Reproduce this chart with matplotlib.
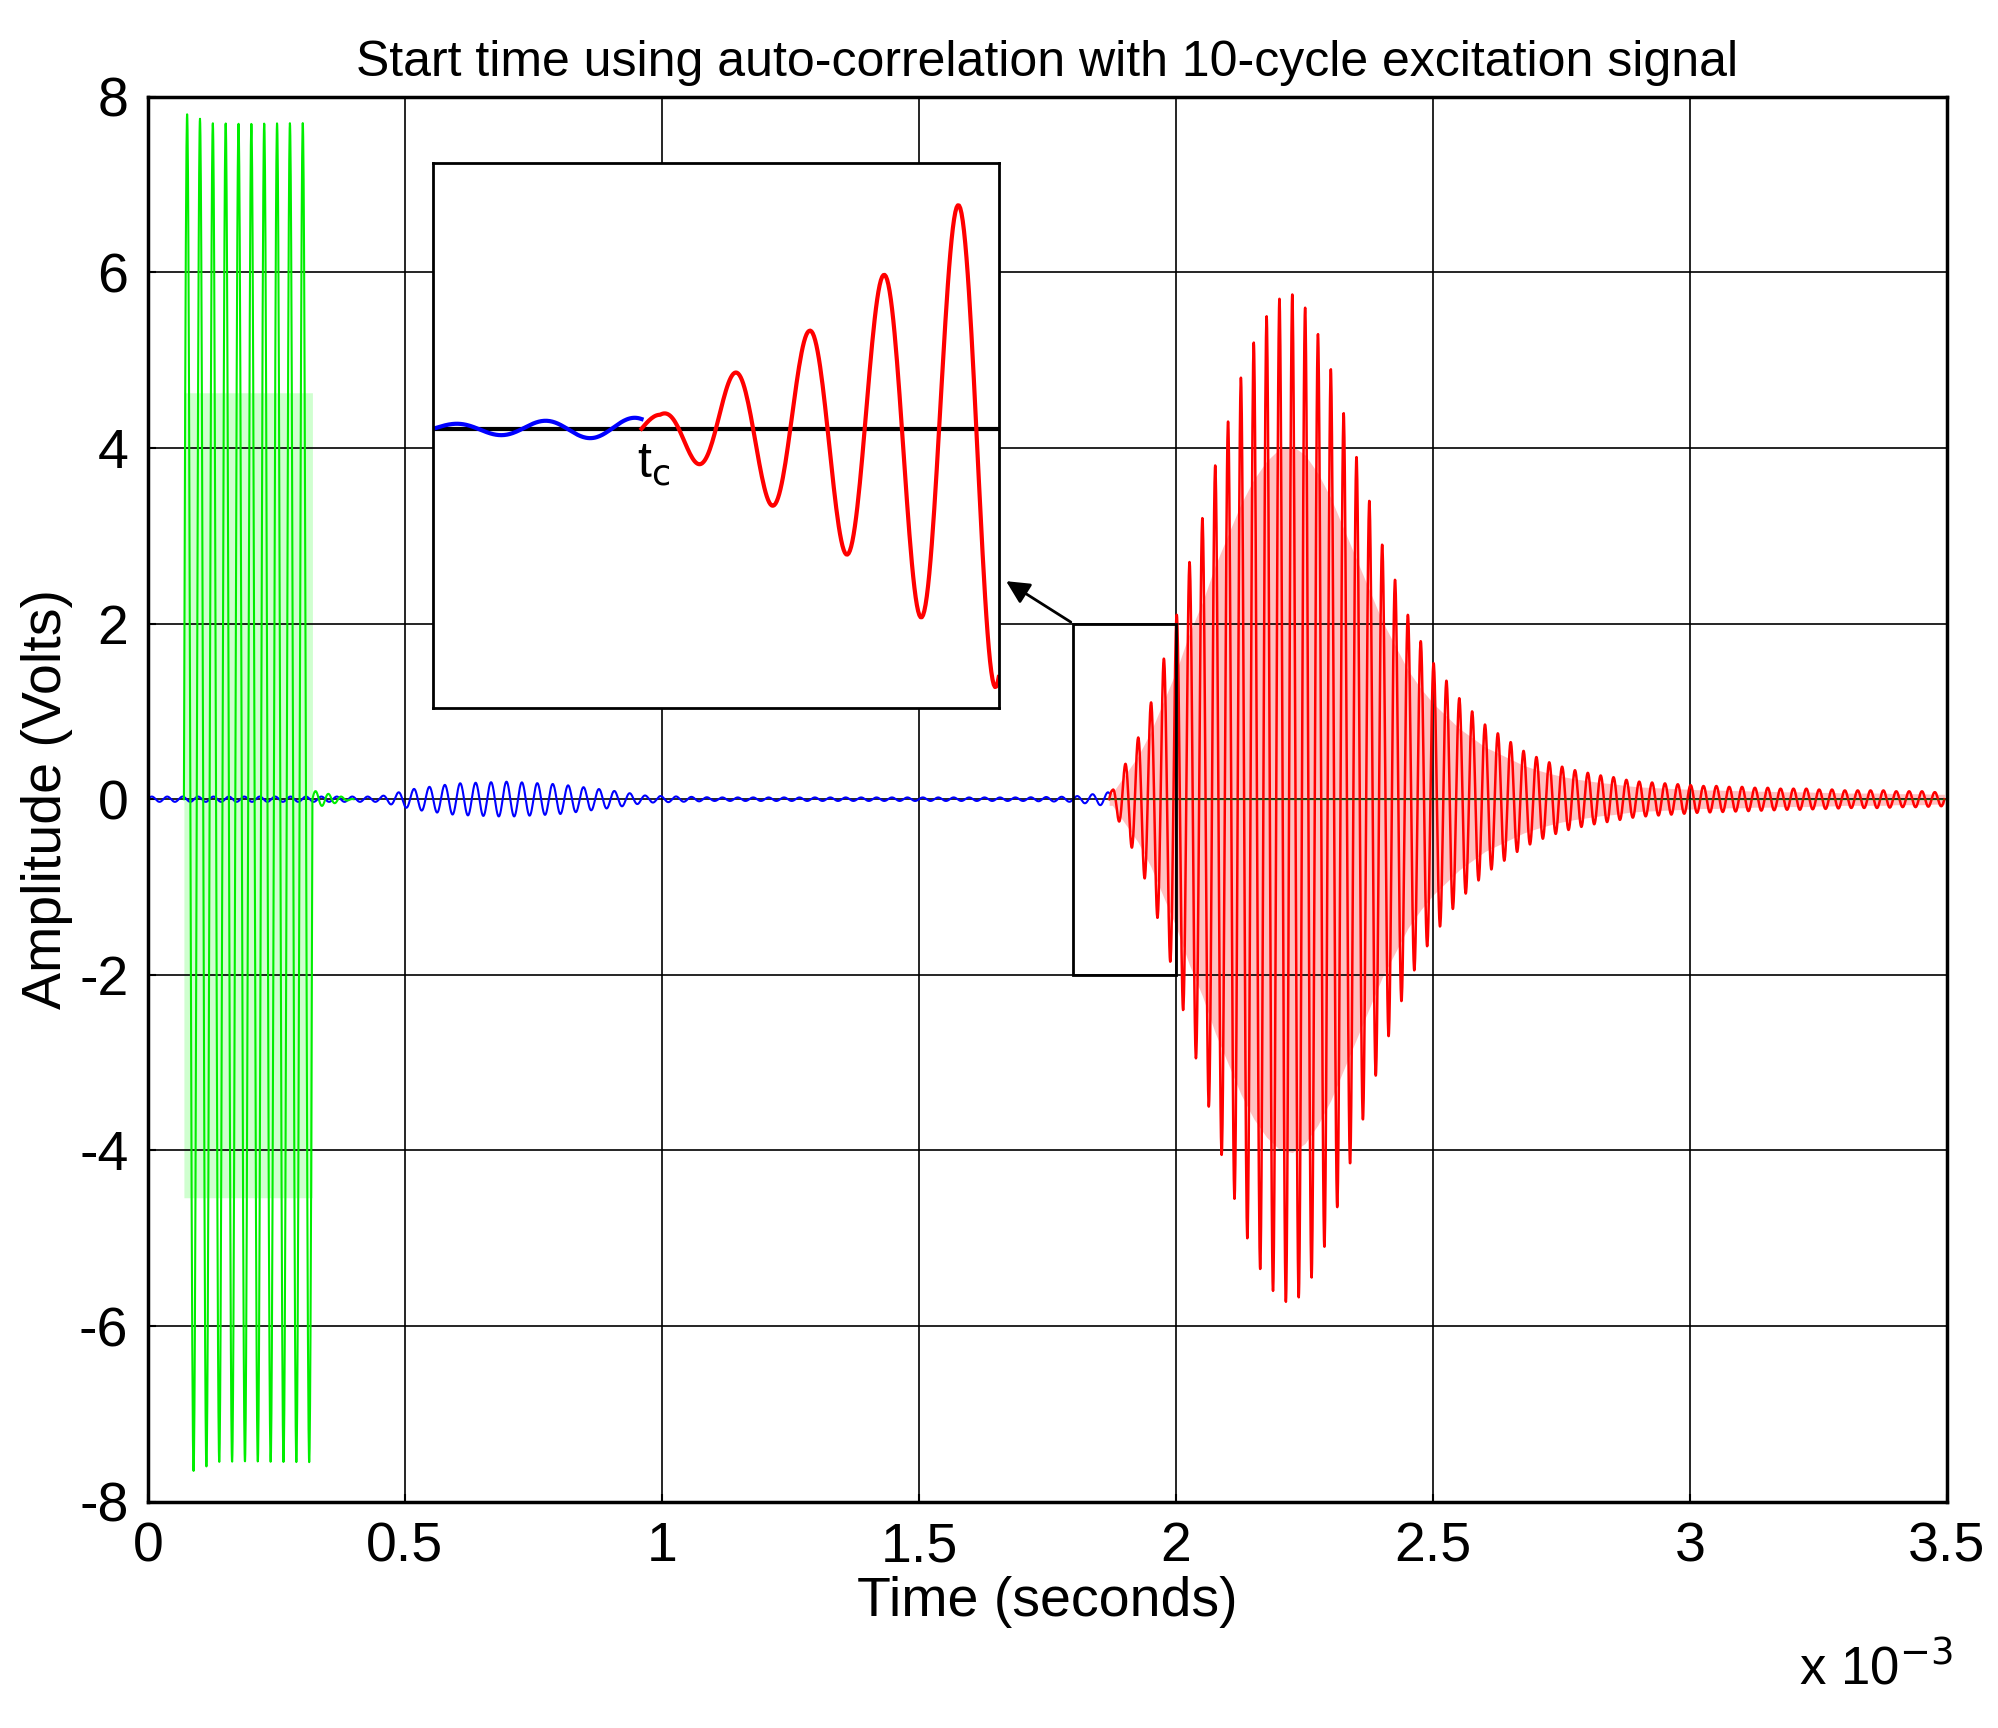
import numpy as np
import matplotlib
matplotlib.use("Agg")
import matplotlib.pyplot as plt
from matplotlib.patches import Rectangle

plt.rcParams["font.family"] = "Liberation Sans"
plt.rcParams["axes.unicode_minus"] = False

# --- data (time in ms) ---
period_ms = 0.025
green_start = 0.07
green_pos_peaks = [7.8, 7.75, 7.7, 7.7, 7.7, 7.7, 7.7, 7.7, 7.7, 7.7]
green_neg_peaks = [-7.65, -7.6, -7.55, -7.55, -7.55, -7.55, -7.55, -7.55, -7.55, -7.55]

blue_env_t = [0.0, 0.45, 0.52, 0.6, 0.7, 0.8, 0.9, 0.97, 1.1, 1.7, 1.8, 1.87]
blue_env_a = [0.03, 0.03, 0.12, 0.18, 0.2, 0.17, 0.1, 0.04, 0.02, 0.02, 0.03, 0.08]

red_start = 1.87
red_peaks = [0.1, 0.4, 0.7, 1.1, 1.6, 2.1, 2.7, 3.2, 3.8, 4.3, 4.8, 5.2, 5.5, 5.7, 5.75,
             5.6, 5.3, 4.9, 4.4, 3.9, 3.4, 2.9, 2.5, 2.1, 1.8, 1.55, 1.35, 1.15, 1.0, 0.85,
             0.75, 0.65, 0.55, 0.48, 0.42, 0.37, 0.33, 0.3, 0.27, 0.25, 0.22, 0.2, 0.19, 0.18,
             0.17, 0.16, 0.15, 0.15, 0.14, 0.14, 0.13, 0.13, 0.12, 0.12, 0.12, 0.11, 0.11,
             0.1, 0.1, 0.1, 0.1, 0.09, 0.09, 0.09, 0.08]

xticks = [0, 0.5, 1, 1.5, 2, 2.5, 3, 3.5]
yticks = [-8, -6, -4, -2, 0, 2, 4, 6, 8]

# --- build traces ---
n = len(green_pos_peaks)
tg = np.linspace(green_start, green_start + n * period_ms, n * 60)
ph = (tg - green_start) / period_ms
idx = np.clip(ph.astype(int), 0, n - 1)
s = np.sin(2 * np.pi * ph)
green_y = np.where(s >= 0, np.array(green_pos_peaks)[idx] * s, -np.array(green_neg_peaks)[idx] * s)
tg2 = np.linspace(green_start + n * period_ms, 0.4, 80)
green_y2 = 0.1 * np.sin(2 * np.pi * (tg2 - tg2[0]) / period_ms) * np.linspace(1, 0, 80)

tb = np.linspace(0, red_start, 6000)
blue_y = np.interp(tb, blue_env_t, blue_env_a) * np.sin(2 * np.pi * tb / (period_ms * 1.2))

nr = len(red_peaks)
tr = np.linspace(red_start, red_start + nr * period_ms, nr * 60)
pc = np.arange(nr) * period_ms + red_start + period_ms / 4
env = np.interp(tr, pc, red_peaks)
red_y = env * np.sin(2 * np.pi * (tr - red_start) / period_ms)

fig = plt.figure(figsize=(19.99, 17.28), dpi=100)
ax = fig.add_axes([0.074, 0.131, 0.9, 0.813])
ax.plot(tb, blue_y, color="#0000ff", lw=1.5)
ax.fill_between(tg, 0.6 * np.array(green_pos_peaks).mean(), 0.6 * np.array(green_neg_peaks).mean(),
                color="#88ff88", alpha=0.4, lw=0)
ax.plot(tg, green_y, color="#00ee00", lw=1.5)
ax.plot(tg2, green_y2, color="#00ee00", lw=1.5)
ax.fill_between(tr, 0.7 * env, -0.7 * env, color="#ff6666", alpha=0.4, lw=0)
ax.plot(tr, red_y, color="#ff0000", lw=1.8)
ax.plot([1.87, 3.5], [0, 0], color="#008800", lw=1, alpha=0.5)
ax.set_xlim(0, 3.5)
ax.set_ylim(-8, 8)
ax.set_xticks(xticks)
ax.set_xticklabels(["0", "0.5", "1", "1.5", "2", "2.5", "3", "3.5"])
ax.set_yticks(yticks)
ax.grid(True, color="black", lw=1.2)
for sp in ax.spines.values():
    sp.set_linewidth(2.5)
ax.tick_params(labelsize=40, length=6, width=1.5, direction="in", pad=14)
ax.set_xlabel("Time (seconds)", fontsize=40, labelpad=2)
ax.set_ylabel("Amplitude (Volts)", fontsize=40)
ax.set_title("Start time using auto-correlation with 10-cycle excitation signal", fontsize=36, pad=15)
fig.text(0.9, 0.025, r"x 10$^{-3}$", fontsize=38)

ax.add_patch(Rectangle((1.8, -2), 0.2, 4, fill=False, ec="black", lw=2, zorder=5))
ax.annotate("", xy=(1.665, 2.5), xytext=(1.8, 2.0),
            arrowprops=dict(arrowstyle="-|>", color="black", lw=2, mutation_scale=35), zorder=6)

ins = ax.inset_axes([0.555 / 3.5, (1.04 + 8) / 16, 1.1 / 3.5, 6.2 / 16])
ins.plot(tb, blue_y, color="#0000ff", lw=3)
ins.plot(tr, red_y, color="#ff0000", lw=3)
ins.axhline(0, color="black", lw=3, zorder=0)
ins.set_xlim(1.80, 1.99)
ins.set_ylim(-2, 1.9)
ins.set_xticks([]); ins.set_yticks([])
for sp in ins.spines.values():
    sp.set_linewidth(2)
ins.text(1.8685, -0.35, r"t$_{\rm c}$", fontsize=36)

fig.savefig("out.png", dpi=100, facecolor="white")
